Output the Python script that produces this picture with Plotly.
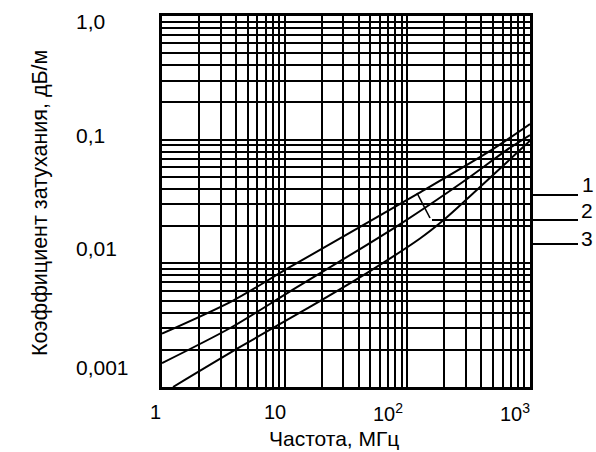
import plotly.graph_objects as go

# ---- data ----
freq_1 = [1.0, 3.8, 11, 124, 480, 1000]
att_1 = [0.0027, 0.0050, 0.0093, 0.037, 0.082, 0.134]

freq_2 = [1.0, 3.6, 11, 85, 315, 640, 1000]
att_2 = [0.00156, 0.0030, 0.0059, 0.0204, 0.049, 0.082, 0.109]

freq_3 = [1.23, 4.3, 15.8, 50, 126, 200, 316, 1000]
att_3 = [0.001, 0.0021, 0.0044, 0.0087, 0.0158, 0.0226, 0.034, 0.098]

curve_names = ["1", "2", "3"]

x_tick_vals = [1, 10, 100, 1000]
x_tick_text = ["1", "10", "10<sup>2</sup>", "10<sup>3</sup>"]
y_tick_vals = [1.0, 0.1, 0.01, 0.001]
y_tick_text = ["1,0", "0,1", "0,01", "0,001"]

x_title = "Частота, МГц"
y_title = "Коэффициент затухания, дБ/м"

# grid values (decades and 2..9 subdivisions)
x_minor = [m * 10 ** d for d in range(0, 3) for m in range(2, 10)]
y_minor = [m * 10 ** d for d in range(-3, 0) for m in range(2, 10)]

FONT = "Liberation Sans, Arial, sans-serif"

fig = go.Figure()
for fx, fy, nm in [(freq_1, att_1, curve_names[0]),
                   (freq_2, att_2, curve_names[1]),
                   (freq_3, att_3, curve_names[2])]:
    fig.add_trace(go.Scatter(x=fx, y=fy, mode="lines", name=nm,
                             line=dict(color="black", width=2, shape="spline", smoothing=0.8),
                             showlegend=False, hoverinfo="skip"))

axis_common = dict(
    type="log", showgrid=True, gridcolor="black", gridwidth=2.2,
    showline=True, linecolor="black", linewidth=3, mirror=True,
    ticks="", showticklabels=False, zeroline=False,
)
fig.update_xaxes(range=[0, 3], tickmode="array", tickvals=x_tick_vals,
                 minor=dict(tickmode="array", tickvals=x_minor, showgrid=True,
                            gridcolor="black", gridwidth=1.7, ticks=""),
                 **axis_common)
fig.update_yaxes(range=[-3, 0], tickmode="array", tickvals=y_tick_vals,
                 minor=dict(tickmode="array", tickvals=y_minor, showgrid=True,
                            gridcolor="black", gridwidth=1.7, ticks=""),
                 **axis_common)

PL, PR, PT, PB = 162, 530, 16, 387
W, H = 596, 452


def px(xp):
    return (xp - PL) / (PR - PL)


def py(yp):
    return (PB - yp) / (PB - PT)


ann = []
# x tick labels
x_label_px = [155, 275, 388, 515]
for t, xp in zip(x_tick_text, x_label_px):
    ann.append(dict(text=t, x=px(xp), y=py(412), xref="paper", yref="paper",
                    showarrow=False, xanchor="center", yanchor="middle",
                    font=dict(size=20, color="black", family=FONT)))
# y tick labels (left-aligned as in the reference)
y_label_py = [22, 135, 248, 367]
for t, yp in zip(y_tick_text, y_label_py):
    ann.append(dict(text=t, x=px(74), y=py(yp), xref="paper", yref="paper",
                    showarrow=False, xanchor="left", yanchor="middle",
                    font=dict(size=21, color="black", family=FONT)))
# axis titles
ann.append(dict(text=x_title, x=px(334), y=py(438), xref="paper", yref="paper",
                showarrow=False, xanchor="center", yanchor="middle",
                font=dict(size=21, color="black", family=FONT)))
ann.append(dict(text=y_title, x=px(40), y=py(203), xref="paper", yref="paper",
                showarrow=False, xanchor="center", yanchor="middle", textangle=-90,
                font=dict(size=21.5, color="black", family=FONT)))
# curve labels
label_pos = [(588, 184), (587, 211), (587, 238)]
for nm, (xp, yp) in zip(curve_names, label_pos):
    ann.append(dict(text=nm, x=px(xp), y=py(yp), xref="paper", yref="paper",
                    showarrow=False, xanchor="center", yanchor="middle",
                    font=dict(size=21, color="black", family=FONT)))

shapes = []
leaders = [(530, 578, 195), (432, 578, 220), (530, 578, 244)]
for x0, x1, yy in leaders:
    shapes.append(dict(type="line", xref="paper", yref="paper",
                       x0=px(x0), x1=px(x1), y0=py(yy), y1=py(yy),
                       line=dict(color="black", width=2)))
# small slash pointer between curves 1 and 2
shapes.append(dict(type="line", xref="paper", yref="paper",
                   x0=px(417), y0=py(193), x1=px(430), y1=py(218),
                   line=dict(color="black", width=1.6)))

fig.update_layout(
    width=W, height=H,
    margin=dict(l=PL, r=W - PR, t=PT, b=H - PB, pad=0),
    paper_bgcolor="white", plot_bgcolor="white",
    annotations=ann, shapes=shapes,
    font=dict(family=FONT, color="black"),
    hovermode=False,
)

fig.write_html(
    "out.html",
    config={"displayModeBar": False},
    post_script="document.body.style.margin='0';document.body.style.overflow='hidden';"
                "document.documentElement.style.overflow='hidden';",
)
